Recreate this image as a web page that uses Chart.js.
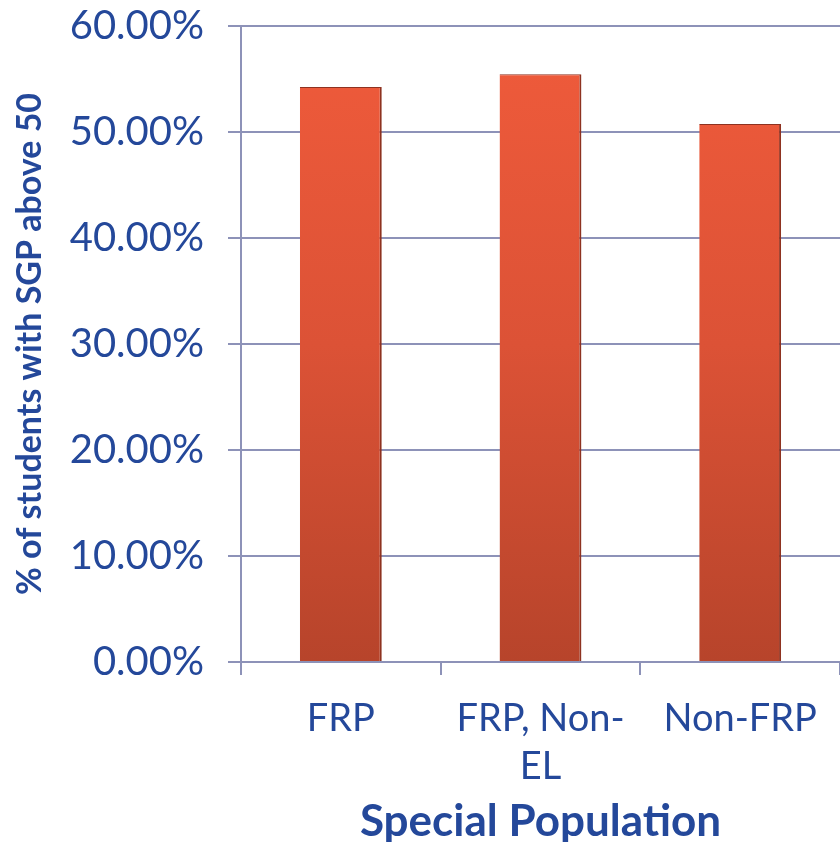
<!DOCTYPE html>
<html>
<head>
<meta charset="utf-8">
<script src="https://cdn.jsdelivr.net/npm/chart.js@4/dist/chart.umd.min.js"></script>
<style>
  html, body { margin: 0; padding: 0; background: #fff; overflow: hidden; }
  #wrap { width: 840px; height: 842px; }
</style>
</head>
<body>
<div id="wrap"><canvas id="c" width="840" height="842"></canvas></div>
<script>
const categories = [['FRP'], ['FRP, Non-', 'EL'], ['Non-FRP']];
const values = [54.25, 55.45, 50.75];
const yTicks = [0, 10, 20, 30, 40, 50, 60];

const TEXT = '#24489a';
const GRID = '#8d92b8';

function barFill(ctx) {
  const area = ctx.chart.chartArea;
  if (!area) return '#e0553a';
  const g = ctx.chart.ctx.createLinearGradient(0, area.top, 0, area.bottom);
  g.addColorStop(0, '#f05b3b');
  g.addColorStop(0.5, '#dc5236');
  g.addColorStop(1, '#b7442b');
  return g;
}

new Chart(document.getElementById('c'), {
  type: 'bar',
  data: {
    labels: categories,
    datasets: [{
      data: values,
      backgroundColor: barFill,
      borderColor: '#8e3220',
      borderWidth: { left: 0, right: 2, top: 1, bottom: 0 },
      borderSkipped: false,
      categoryPercentage: 1,
      barPercentage: 0.41,
    }],
  },
  options: {
    responsive: false,
    animation: false,
    layout: { padding: { top: 0, right: 0, left: 0, bottom: 0 } },
    plugins: { legend: { display: false }, tooltip: { enabled: false } },
    scales: {
      x: {
        grid: { display: true, drawOnChartArea: false, color: GRID, lineWidth: 2, tickLength: 13, offset: true },
        border: { color: GRID, width: 2 },
        ticks: {
          color: TEXT, padding: 19, maxRotation: 0, autoSkip: false,
          font: { family: 'Lato', size: 38, lineHeight: 1.28 },
        },
        title: {
          display: true, text: 'Special Population', color: TEXT,
          font: { family: 'Lato', size: 44, weight: 'bold', lineHeight: 1.0 },
          padding: { top: 10, bottom: -2 },
        },
        afterFit: (s) => { s.height = 180; },
      },
      y: {
        min: 0, max: 60,
        afterBuildTicks: (s) => { s.ticks = yTicks.map(v => ({ value: v })); },
        grid: { color: GRID, lineWidth: 2, tickLength: 13 },
        border: { color: GRID, width: 2 },
        ticks: {
          color: TEXT, padding: 24,
          font: { family: 'Lato', size: 40 },
          callback: (v) => v.toFixed(2) + '%',
        },
        title: {
          display: true, text: '% of students with SGP above 50', color: TEXT,
          font: { family: 'Lato', size: 34, weight: 'bold' },
          padding: { top: 10, bottom: 0 },
        },
        afterFit: (s) => { s.width = 241; s.paddingTop = 26; s.paddingBottom = 0; },
      },
    },
  },
});
</script>
</body>
</html>
